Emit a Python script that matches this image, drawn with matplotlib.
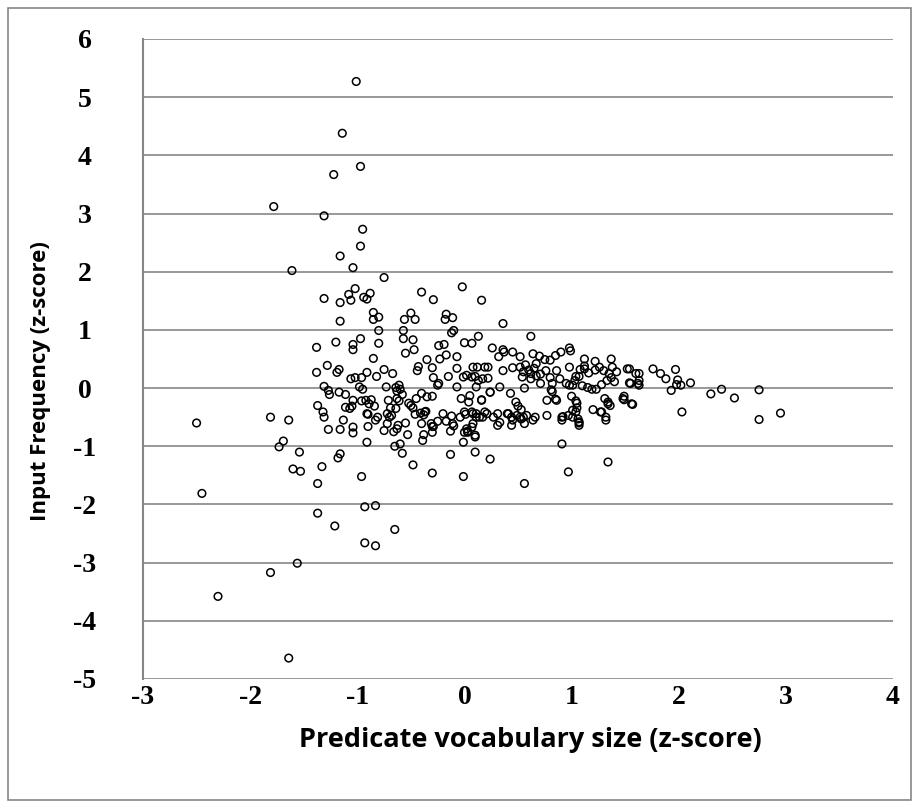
import numpy as np
import matplotlib.pyplot as plt
from matplotlib.patches import Rectangle

plt.rcParams['axes.unicode_minus'] = False

# points, grouped by region (x = vocabulary z, y = input z)
high_outliers = [(-1.01, 5.27), (-1.14, 4.38), (-0.97, 3.81), (-1.22, 3.67), (-1.78, 3.12),
                 (-1.31, 2.96), (-0.95, 2.73), (-0.97, 2.44), (-1.16, 2.27), (-1.04, 2.07),
                 (-1.61, 2.02), (-0.75, 1.90)]

upper_band = [(-1.31, 1.54), (-1.16, 1.47), (-1.08, 1.61), (-1.02, 1.71), (-1.06, 1.51),
              (-0.94, 1.56), (-0.91, 1.53), (-0.88, 1.63), (-0.40, 1.65), (-0.29, 1.52),
              (-0.02, 1.74), (0.16, 1.51), (-1.16, 1.15), (-0.85, 1.30), (-0.85, 1.18),
              (-0.80, 1.22), (-0.50, 1.29), (-0.56, 1.18), (-0.46, 1.18), (-0.17, 1.27),
              (-0.18, 1.18), (-0.11, 1.21), (0.36, 1.11), (-0.80, 0.99), (-0.57, 0.99),
              (-0.10, 0.99), (-0.12, 0.95)]

mid_positive = [(-1.38, 0.70), (-1.20, 0.79), (-1.04, 0.75), (-1.04, 0.66), (-0.97, 0.85),
                (-0.80, 0.77), (-0.57, 0.85), (-0.48, 0.83), (-0.47, 0.66), (-0.55, 0.60),
                (-0.85, 0.51), (-0.24, 0.73), (-0.19, 0.75), (-0.17, 0.57), (-0.07, 0.54),
                (-0.23, 0.50), (0.00, 0.78), (0.07, 0.77), (0.13, 0.89), (0.62, 0.89),
                (0.26, 0.69), (0.36, 0.66), (0.37, 0.62), (0.45, 0.62), (0.32, 0.54),
                (0.52, 0.54), (0.64, 0.59), (0.70, 0.55), (0.75, 0.49), (0.80, 0.48),
                (0.85, 0.56), (0.90, 0.62), (0.98, 0.69), (0.99, 0.64), (1.12, 0.50),
                (1.22, 0.46), (1.37, 0.50), (-0.35, 0.49), (-0.43, 0.37), (-0.44, 0.30),
                (-0.30, 0.35)]

near_zero_left = [(-1.38, 0.27), (-1.28, 0.39), (-1.19, 0.27), (-1.17, 0.32), (-1.06, 0.16),
                  (-1.02, 0.18), (-0.96, 0.18), (-0.91, 0.27), (-0.82, 0.20), (-0.75, 0.32),
                  (-0.67, 0.25), (-0.29, 0.18), (-0.25, 0.05), (-0.24, 0.08), (-0.15, 0.20),
                  (-0.07, 0.34), (-0.01, 0.19), (0.02, 0.22), (0.08, 0.36), (0.12, 0.36),
                  (0.07, 0.19), (0.10, 0.20), (0.13, 0.13), (-0.07, 0.02), (0.11, 0.02),
                  (-1.31, 0.03), (-1.27, -0.04), (-1.26, -0.11), (-1.17, -0.07), (-1.11, -0.11),
                  (-0.98, 0.02), (-0.95, -0.02), (-0.73, 0.02), (-0.64, 0.01), (-0.61, 0.05),
                  (-0.60, -0.02), (-0.63, -0.05), (-0.58, -0.11), (-0.40, -0.09), (-0.35, -0.15),
                  (-0.30, -0.14), (-0.45, -0.18)]

near_zero_right = [(0.19, 0.36), (0.22, 0.36), (0.17, 0.16), (0.22, 0.17), (0.36, 0.30),
                   (0.45, 0.35), (0.52, 0.36), (0.55, 0.28), (0.57, 0.40), (0.60, 0.31),
                   (0.62, 0.25), (0.65, 0.34), (0.67, 0.42), (0.54, 0.19), (0.62, 0.16),
                   (0.67, 0.21), (0.71, 0.24), (0.76, 0.30), (0.56, 0.00), (0.71, 0.08),
                   (0.80, 0.18), (0.82, 0.08), (0.81, -0.03), (0.82, -0.06), (0.86, 0.30),
                   (0.89, 0.16), (0.95, 0.08), (0.98, 0.36), (0.98, 0.05), (1.01, 0.05),
                   (1.03, 0.13), (1.04, 0.20), (1.07, 0.20), (1.08, 0.32), (1.12, 0.38),
                   (1.12, 0.33), (1.16, 0.26), (1.22, 0.31), (1.26, 0.36), (1.30, 0.30),
                   (1.35, 0.25), (1.38, 0.36), (1.42, 0.28), (1.52, 0.33), (1.60, 0.25),
                   (1.10, 0.04), (1.15, 0.01), (1.19, -0.02), (1.23, -0.02), (1.28, 0.06),
                   (1.33, 0.13), (1.37, 0.18), (1.40, 0.11), (1.55, 0.08), (1.62, 0.08),
                   (0.33, 0.02), (0.24, -0.07), (0.43, -0.09)]

right_tail = [(1.54, 0.33), (1.63, 0.25), (1.63, 0.13), (1.63, 0.05), (1.54, 0.09),
              (1.76, 0.33), (1.83, 0.25), (1.88, 0.16), (1.97, 0.32), (1.99, 0.14),
              (1.98, 0.06), (2.02, 0.05), (2.11, 0.09), (1.93, -0.04), (1.57, -0.28),
              (2.03, -0.41), (2.30, -0.10), (2.40, -0.02), (2.52, -0.17), (2.75, -0.03),
              (2.75, -0.54), (2.95, -0.43)]

mid_negative = [(-1.37, -0.30), (-1.32, -0.41), (-1.31, -0.50), (-1.11, -0.33), (-1.07, -0.35),
                (-1.05, -0.31), (-1.04, -0.21), (-0.96, -0.22), (-0.92, -0.21), (-0.87, -0.20),
                (-0.89, -0.27), (-0.84, -0.31), (-0.91, -0.44), (-0.81, -0.50), (-0.83, -0.55),
                (-0.71, -0.21), (-0.69, -0.34), (-0.72, -0.44), (-0.70, -0.50), (-0.63, -0.18),
                (-0.61, -0.22), (-0.52, -0.26), (-0.50, -0.30), (-0.48, -0.34), (-0.41, -0.43),
                (-0.36, -0.40), (-0.38, -0.46), (-0.31, -0.61), (-0.30, -0.66), (-0.20, -0.44),
                (-0.12, -0.48), (-0.03, -0.18), (0.05, -0.13), (0.04, -0.24), (0.00, -0.41),
                (0.11, -0.50), (0.08, -0.61), (-1.13, -0.55), (-0.90, -0.45), (-0.75, -0.73),
                (-0.72, -0.61), (-0.68, -0.47), (-0.64, -0.35), (-0.66, -0.75), (-0.63, -0.70),
                (-0.62, -0.64), (-0.65, -1.00), (-0.60, -0.96), (-0.58, -1.12), (-0.55, -0.60),
                (-0.53, -0.80), (-0.48, -1.32), (-0.46, -0.45), (-0.37, -0.41), (-0.40, -0.61),
                (-0.38, -0.80), (-0.39, -0.90), (-0.30, -0.76), (-0.30, -1.46), (-0.25, -0.57),
                (-0.17, -0.57), (-0.11, -0.61), (-0.13, -0.74), (-0.13, -1.14), (-0.04, -0.50),
                (-0.01, -0.93), (0.01, -0.45), (0.03, -0.74), (0.07, -0.67), (0.08, -0.44),
                (0.10, -1.10), (0.10, -0.81), (0.14, -0.50), (-0.01, -1.52), (-0.29, -0.66),
                (-0.10, -0.65), (0.00, -0.76), (0.02, -0.70), (0.24, -1.22)]

mid_negative_right = [(0.16, -0.21), (0.16, -0.20), (0.24, -0.07), (0.48, -0.24), (0.50, -0.31),
                      (0.53, -0.37), (0.77, -0.21), (0.85, -0.19), (1.00, -0.14), (1.05, -0.26),
                      (1.05, -0.34), (1.01, -0.38), (1.20, -0.37), (1.27, -0.41), (1.31, -0.18),
                      (1.34, -0.27), (1.32, -0.50), (1.49, -0.14), (1.49, -0.20), (0.11, -0.44),
                      (0.19, -0.41), (0.31, -0.44), (0.40, -0.44), (0.44, -0.50), (0.49, -0.47),
                      (0.52, -0.50), (0.55, -0.50), (0.56, -0.61), (0.66, -0.50), (0.77, -0.47),
                      (0.92, -0.49), (0.97, -0.47), (1.01, -0.50), (1.06, -0.53), (1.07, -0.58),
                      (1.07, -0.64), (0.07, -0.41), (0.17, -0.50), (0.21, -0.44), (0.27, -0.50),
                      (0.31, -0.64), (0.33, -0.59), (0.41, -0.44), (0.44, -0.64), (0.45, -0.55),
                      (0.53, -0.53), (0.58, -0.47), (0.64, -0.55), (0.10, -0.84), (0.03, -0.76),
                      (0.56, -1.64), (0.91, -0.96), (0.97, -1.44), (1.34, -1.27), (1.07, -0.60),
                      (1.32, -0.55), (0.91, -0.55), (1.28, -0.41), (1.34, -0.24), (1.36, -0.30),
                      (1.48, -0.18), (1.56, -0.27), (1.04, -0.22), (1.04, -0.41), (0.86, -0.21),
                      (0.91, -0.50)]

low_outliers = [(-1.81, -0.50), (-1.64, -0.55), (-2.50, -0.60), (-1.69, -0.91), (-1.73, -1.01),
                (-1.54, -1.10), (-1.60, -1.39), (-1.53, -1.43), (-1.33, -1.35), (-1.37, -1.64),
                (-2.45, -1.81), (-1.27, -0.71), (-1.16, -0.71), (-1.04, -0.67), (-1.04, -0.77),
                (-0.90, -0.66), (-0.91, -0.93), (-1.16, -1.13), (-1.18, -1.20), (-0.96, -1.52),
                (-1.37, -2.15), (-1.21, -2.37), (-0.93, -2.04), (-0.83, -2.02), (-0.93, -2.66),
                (-0.83, -2.71), (-1.56, -3.01), (-1.81, -3.17), (-2.30, -3.58), (-1.64, -4.64),
                (-0.65, -2.43)]

groups = [high_outliers, upper_band, mid_positive, near_zero_left, near_zero_right,
          right_tail, mid_negative, mid_negative_right, low_outliers]
pts = np.array([p for g in groups for p in g])

x_ticks = [-3, -2, -1, 0, 1, 2, 3, 4]
y_ticks = [-5, -4, -3, -2, -1, 0, 1, 2, 3, 4, 5, 6]

fig = plt.figure(figsize=(9.19, 8.07), dpi=100)
ax = fig.add_axes([143 / 919, 1 - 679 / 807, 750 / 919, 640 / 807])

grid_col = '#868686'
for yv in y_ticks:
    ax.axhline(yv, color=grid_col, lw=1.2, zorder=1)

ax.scatter(pts[:, 0], pts[:, 1], s=30, facecolors='none', edgecolors='black',
           linewidths=1.1, zorder=3)

ax.set_xlim(-3, 4)
ax.set_ylim(-5, 6)
ax.set_xticks(x_ticks)
ax.set_yticks(y_ticks)
ax.tick_params(length=0)
ax.tick_params(axis='x', pad=4)
ax.tick_params(axis='y', pad=42)
for lab in ax.get_xticklabels() + ax.get_yticklabels():
    lab.set_fontfamily('Liberation Serif')
    lab.set_fontweight('bold')
    lab.set_fontsize(20)
for lab in ax.get_yticklabels():
    lab.set_horizontalalignment('center')

for s in ['top', 'right', 'bottom']:
    ax.spines[s].set_visible(False)
ax.spines['left'].set_color(grid_col)
ax.spines['left'].set_linewidth(1.5)

ax.set_xlabel('Predicate vocabulary size (z-score)', fontsize=19.5, fontweight='bold',
              fontfamily='Open Sans', va='center')
ax.set_ylabel('Input Frequency (z-score)', fontsize=16, fontweight='bold',
              fontfamily='Open Sans', va='center')
ax.xaxis.set_label_coords(0.517, -0.095)
ax.yaxis.set_label_coords(-0.137, 0.466)

fig.patches.append(Rectangle((8 / 919, 7 / 807), 903 / 919, 792 / 807, transform=fig.transFigure,
                             fill=False, edgecolor=grid_col, lw=1.2))

fig.savefig('out.png', dpi=100)
